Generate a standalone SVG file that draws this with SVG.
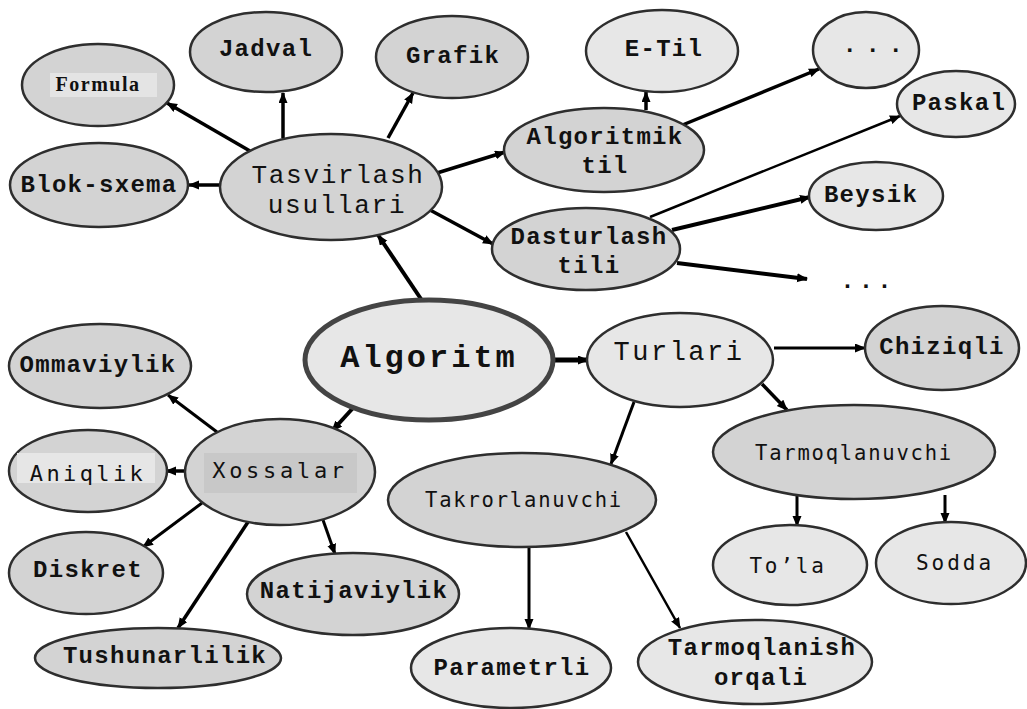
<svg xmlns="http://www.w3.org/2000/svg" width="1027" height="709" viewBox="0 0 1027 709">
<style>
  .dk { fill: #d3d3d3; stroke: #2e2e2e; stroke-width: 2.5; }
  .lt { fill: #e7e7e7; stroke: #2e2e2e; stroke-width: 2.5; }
  .main { fill: #e7e7e7; stroke: #444; stroke-width: 5; }
  .cn { stroke: #000; fill: none; marker-end: url(#ah); }
  text { fill: #111; text-anchor: middle; }
  .cb { font-family: "Liberation Mono", "Courier New", monospace; font-weight: bold; font-size: 24px; letter-spacing: 1.3px; }
  .cr { font-family: "Liberation Mono", "Courier New", monospace; font-size: 26px; letter-spacing: 1.7px; }
  .sm { font-family: "DejaVu Sans Mono", "Lucida Console", monospace; font-size: 20.5px; letter-spacing: 1.8px; }
  .sl { font-family: "DejaVu Sans Mono", "Lucida Console", monospace; font-size: 22px; letter-spacing: 3.4px; }
</style>
<defs>
  <marker id="ah" markerUnits="userSpaceOnUse" markerWidth="12" markerHeight="10" refX="10" refY="4.5" orient="auto">
    <path d="M0,0 L11,4.5 L0,9 z" fill="#000"/>
  </marker>
</defs>
<rect width="1027" height="709" fill="#fff"/>
<g id="connectors">
  <line class="cn" stroke-width="3.5" x1="250" y1="151" x2="167" y2="103"/>
  <line class="cn" stroke-width="3.5" x1="283" y1="138" x2="283" y2="93"/>
  <line class="cn" stroke-width="3.5" x1="388" y1="138" x2="413" y2="93"/>
  <line class="cn" stroke-width="3.5" x1="220" y1="185" x2="189" y2="185"/>
  <line class="cn" stroke-width="3.5" x1="437" y1="173" x2="505" y2="152"/>
  <line class="cn" stroke-width="3.5" x1="430" y1="210" x2="493" y2="244"/>
  <line class="cn" stroke-width="4" x1="423" y1="302" x2="378" y2="235"/>
  <line class="cn" stroke-width="3.5" x1="646" y1="110" x2="646" y2="92"/>
  <line class="cn" stroke-width="3.5" x1="680" y1="126" x2="819" y2="69"/>
  <line class="cn" stroke-width="2.5" x1="650" y1="217" x2="900" y2="116"/>
  <line class="cn" stroke-width="4" x1="672" y1="230" x2="810" y2="197"/>
  <line class="cn" stroke-width="4" x1="677" y1="263" x2="807" y2="279"/>
  <line class="cn" stroke-width="5" x1="553" y1="360" x2="588" y2="360"/>
  <line class="cn" stroke-width="4" x1="353" y1="408" x2="332" y2="431"/>
  <line class="cn" stroke-width="3" x1="774" y1="348" x2="865" y2="348"/>
  <line class="cn" stroke-width="3.5" x1="762" y1="384" x2="787" y2="410"/>
  <line class="cn" stroke-width="3" x1="634" y1="402" x2="611" y2="464"/>
  <line class="cn" stroke-width="3" x1="797" y1="495" x2="797" y2="526"/>
  <line class="cn" stroke-width="3" x1="945" y1="495" x2="945" y2="523"/>
  <line class="cn" stroke-width="3" x1="529" y1="547" x2="529" y2="629"/>
  <line class="cn" stroke-width="2.5" x1="626" y1="532" x2="680" y2="628"/>
  <line class="cn" stroke-width="3" x1="217" y1="432" x2="168" y2="395"/>
  <line class="cn" stroke-width="3.5" x1="187" y1="471" x2="166" y2="471"/>
  <line class="cn" stroke-width="3" x1="202" y1="503" x2="143" y2="547"/>
  <line class="cn" stroke-width="3.5" x1="248" y1="522" x2="178" y2="628"/>
  <line class="cn" stroke-width="3" x1="323" y1="520" x2="335" y2="554"/>
</g>
<g id="formula">
  <ellipse class="dk" cx="98" cy="85" rx="76" ry="41"/>
  <rect x="50" y="73" width="107" height="24" fill="#e4e4e4"/>
  <text x="98" y="91" style="font-family:'Liberation Serif','Times New Roman',serif;font-weight:bold;font-size:20px;letter-spacing:1.5px">Formula</text>
</g>
<g id="jadval">
  <ellipse class="dk" cx="266" cy="52" rx="76" ry="40"/>
  <text class="cb" x="266" y="56">Jadval</text>
</g>
<g id="grafik">
  <ellipse class="dk" cx="452" cy="57" rx="76" ry="41"/>
  <text class="cb" x="453" y="63">Grafik</text>
</g>
<g id="blok-sxema">
  <ellipse class="dk" cx="99" cy="185" rx="89" ry="42"/>
  <text class="cb" x="99" y="192">Blok-sxema</text>
</g>
<g id="tasvirlash">
  <ellipse class="dk" cx="331" cy="187" rx="111" ry="53"/>
  <text class="cr" x="338" y="183">Tasvirlash</text>
  <text class="cr" x="337" y="213">usullari</text>
</g>
<g id="algoritmik-til">
  <ellipse class="dk" cx="604" cy="150" rx="100" ry="42"/>
  <text class="cb" x="605" y="144">Algoritmik</text>
  <text class="cb" x="605" y="173">til</text>
</g>
<g id="e-til">
  <ellipse class="lt" cx="662" cy="51" rx="76" ry="41"/>
  <text class="cb" x="664" y="56">E-Til</text>
</g>
<g id="dots-top">
  <ellipse class="lt" cx="866" cy="50" rx="53" ry="38"/>
  <text class="cb" x="877" y="52" style="letter-spacing:8.6px">...</text>
</g>
<g id="paskal">
  <ellipse class="lt" cx="956" cy="104" rx="59" ry="33"/>
  <text class="cb" x="959" y="110">Paskal</text>
</g>
<g id="dasturlash-tili">
  <ellipse class="dk" cx="586" cy="249" rx="94" ry="41"/>
  <text class="cb" x="589" y="244">Dasturlash</text>
  <text class="cb" x="589" y="273">tili</text>
</g>
<g id="beysik">
  <ellipse class="lt" cx="876" cy="196" rx="67" ry="34"/>
  <text class="cb" x="871" y="202">Beysik</text>
</g>
<g id="dots-bottom">
  <text class="cb" x="868" y="288" style="letter-spacing:4.1px">...</text>
</g>
<g id="algoritm">
  <ellipse class="main" cx="429" cy="360" rx="124" ry="60"/>
  <text x="429" y="367" style="font-family:'Liberation Mono','Courier New',monospace;font-weight:bold;font-size:32px;letter-spacing:3px">Algoritm</text>
</g>
<g id="turlari">
  <ellipse class="lt" cx="680" cy="360" rx="93" ry="47"/>
  <text class="cr" x="679" y="360" style="font-size:27px;letter-spacing:2.5px">Turlari</text>
</g>
<g id="chiziqli">
  <ellipse class="dk" cx="942" cy="348" rx="77" ry="42"/>
  <text class="cb" x="942" y="354">Chiziqli</text>
</g>
<g id="tarmoqlanuvchi">
  <ellipse class="dk" cx="854" cy="452" rx="141" ry="47"/>
  <text class="sm" x="854" y="460">Tarmoqlanuvchi</text>
</g>
<g id="tola">
  <ellipse class="lt" cx="790" cy="565" rx="77" ry="40"/>
  <text class="sl" x="788" y="573" style="font-size:21px;letter-spacing:2.8px">To’la</text>
</g>
<g id="sodda">
  <ellipse class="lt" cx="951" cy="563" rx="75" ry="41"/>
  <text class="sl" x="955" y="570" style="font-size:21px;letter-spacing:3px">Sodda</text>
</g>
<g id="takrorlanuvchi">
  <ellipse class="dk" cx="522" cy="500" rx="134" ry="47"/>
  <text class="sm" x="524" y="507">Takrorlanuvchi</text>
</g>
<g id="parametrli">
  <ellipse class="lt" cx="511" cy="668" rx="100" ry="40"/>
  <text class="cb" x="512" y="675">Parametrli</text>
</g>
<g id="tarmoqlanish-orqali">
  <ellipse class="lt" cx="755" cy="662" rx="117" ry="42"/>
  <text class="cb" x="762" y="655">Tarmoqlanish</text>
  <text class="cb" x="761" y="685">orqali</text>
</g>
<g id="xossalar">
  <ellipse class="dk" cx="280" cy="472" rx="95" ry="53"/>
  <rect x="204" y="453" width="153" height="40" fill="#c8c8c8"/>
  <text class="sl" x="280" y="478" style="letter-spacing:3.7px">Xossalar</text>
</g>
<g id="aniqlik">
  <ellipse class="dk" cx="88" cy="471" rx="79" ry="41"/>
  <rect x="17" y="453" width="138" height="30" fill="#e6e6e6"/>
  <text class="sl" x="88" y="481">Aniqlik</text>
</g>
<g id="ommaviylik">
  <ellipse class="dk" cx="100" cy="366" rx="91" ry="42"/>
  <text class="cb" x="98" y="372">Ommaviylik</text>
</g>
<g id="diskret">
  <ellipse class="dk" cx="86" cy="573" rx="77" ry="41"/>
  <text class="cb" x="88" y="577">Diskret</text>
</g>
<g id="natijaviylik">
  <ellipse class="dk" cx="353" cy="594" rx="106" ry="41"/>
  <text class="cb" x="354" y="598">Natijaviylik</text>
</g>
<g id="tushunarlilik">
  <ellipse class="dk" cx="158" cy="658" rx="123" ry="30"/>
  <text class="cb" x="165" y="663">Tushunarlilik</text>
</g>
</svg>
